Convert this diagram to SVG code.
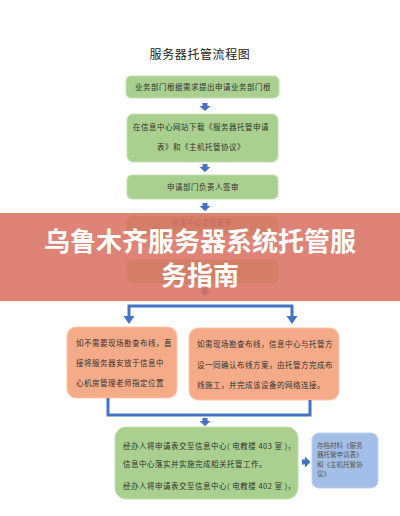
<svg xmlns="http://www.w3.org/2000/svg" width="400" height="516" viewBox="0 0 400 516">
<style>
.g{fill:#A9D08E;stroke:#C4DFB2;stroke-width:1}
.o{fill:#F5AB88;stroke:#F9C6AC;stroke-width:1}
.b{fill:#A3BEE7;stroke:#BCD0EE;stroke-width:1}
.t{font-family:"Noto Sans CJK SC","Noto Sans",sans-serif;font-size:7.5px;fill:#333;letter-spacing:0.5px}
.tc{text-anchor:middle}
.ts{font-family:"Noto Sans CJK SC","Noto Sans",sans-serif;font-size:6.5px;fill:#555}
.ln{fill:none;stroke:#4472C4;stroke-width:3}
.ar{fill:#4472C4}
.title{font-family:"Noto Sans CJK SC","Noto Sans",sans-serif;font-size:12px;fill:#222;text-anchor:middle;letter-spacing:0.6px}
.ban{font-family:"Noto Sans CJK SC","Noto Sans",sans-serif;font-size:26px;font-weight:700;fill:#fff;text-anchor:middle}
</style>
<defs>
<path id="dn" d="M-2.5,0 h5 v3 h3 l-5.5,5 l-5.5,-5 h3 z"/>
<path id="rt" d="M0,-2.5 v5 h3 v3 l5.5,-5.5 l-5.5,-5.5 v3 z"/>
<path id="hd" d="M-5.5,0 h11 l-5.5,8 z"/>
</defs>
<rect width="400" height="516" fill="#fff"/>
<text class="title" x="200" y="59">服务器托管流程图</text>

<g id="n1"><rect class="g" x="126" y="76" width="153" height="22" rx="5"/><text class="t tc" x="203" y="90">业务部门根据需求提出申请业务部门根</text></g>
<g id="n2"><rect class="g" x="127" y="114" width="151" height="48" rx="6"/><text class="t tc" x="201" y="130">在信息中心网站下载《服务器托管申请</text><text class="t tc" x="201" y="150">表》和《主机托管协议》</text></g>
<g id="n3"><rect class="g" x="127" y="175" width="151" height="24" rx="5"/><text class="t tc" x="203" y="190">申请部门负责人签审</text></g>
<g id="n4"><rect class="g" x="127" y="216" width="151" height="19" rx="5"/><text class="t tc" x="202" y="225" style="font-size:7px">信息中心主任签审</text></g>
<g id="n5"><rect class="g" x="127" y="260" width="151" height="23" rx="5"/></g>
<g id="n6"><rect class="o" x="67" y="327" width="110" height="71" rx="9"/>
<text class="t" x="76" y="346">如不需要现场勘查布线，直</text>
<text class="t" x="76" y="366">接将服务器安放于信息中</text>
<text class="t" x="76" y="386">心机房管理老师指定位置</text></g>
<g id="n7"><rect class="o" x="189" y="328" width="150" height="72" rx="9"/>
<text class="t" x="197" y="347">如需现场勘查布线，信息中心与托管方</text>
<text class="t" x="197" y="368">设一同确认布线方案，由托管方完成布</text>
<text class="t" x="197" y="388">线施工，并完成该设备的网络连接。</text></g>
<g id="n8"><rect class="g" x="115" y="427" width="183" height="72" rx="11"/>
<text class="t" x="123" y="449">经办人将申请表交至信息中心( 电教楼 403 室 )，</text>
<text class="t" x="123" y="467">信息中心落实并实施完成相关托管工作。</text>
<text class="t" x="123" y="489">经办人将申请表交至信息中心( 电教楼 402 室 )，</text></g>
<g id="n9"><rect class="b" x="312" y="433" width="66" height="55" rx="7"/>
<text class="ts" x="317" y="448">存档材料《服务</text>
<text class="ts" x="317" y="457">器托管申请表》</text>
<text class="ts" x="317" y="467">和《主机托管协</text>
<text class="ts" x="317" y="476">议》</text></g>

<g id="connectors">
<use href="#dn" class="ar" x="205" y="103"/>
<use href="#dn" class="ar" x="205" y="164"/>
<use href="#dn" class="ar" x="205" y="203"/>
<use href="#dn" class="ar" x="205" y="242"/>
<use href="#dn" class="ar" x="205" y="288"/>
<path class="ln" d="M129,317 V306 H292 V317"/>
<use href="#hd" class="ar" x="129" y="316"/>
<use href="#hd" class="ar" x="292" y="316"/>
<path class="ln" d="M108,398 V415 H310 V400"/>
<use href="#dn" class="ar" x="205" y="418"/>
<use href="#rt" class="ar" x="302" y="462"/>
</g>

<g id="banner">
<rect x="0" y="213" width="400" height="88" fill="rgb(218,112,98)" fill-opacity="0.87"/>
<text class="ban" x="200" y="251">乌鲁木齐服务器系统托管服</text>
<text class="ban" x="200" y="285">务指南</text>
</g>
</svg>
